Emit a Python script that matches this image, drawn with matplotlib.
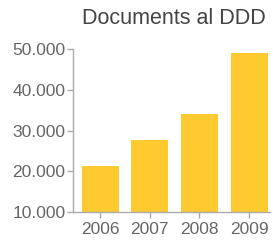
import numpy as np
import matplotlib.pyplot as plt

plt.rcParams['font.family'] = ['Liberation Sans', 'DejaVu Sans']

years = ['2006', '2007', '2008', '2009']
docs = [21300, 27700, 34000, 49000]
yticks = [10000, 20000, 30000, 40000, 50000]
ylabels = ['10.000', '20.000', '30.000', '40.000', '50.000']

grey = '#666666'
axis_col = '#aaaaaa'

fig = plt.figure(figsize=(2.73, 2.41), dpi=100)
ax = fig.add_axes([0.267, 0.12, 0.722, 0.677])

x = np.arange(len(years))
ax.bar(x, docs, width=0.75, color='#ffc930', bottom=0)

ax.set_xlim(-0.55, 3.42)
ax.set_ylim(10000, 50000)
ax.set_xticks(x)
ax.set_xticklabels(years)
ax.set_yticks(yticks)
ax.set_yticklabels(ylabels)

for s in ['top', 'right']:
    ax.spines[s].set_visible(False)
for s in ['left', 'bottom']:
    ax.spines[s].set_color(axis_col)
    ax.spines[s].set_linewidth(1)
ax.tick_params(colors=axis_col, labelcolor=grey, labelsize=12.5, length=4, width=1, pad=1.5)
ax.tick_params(axis='x', pad=3)

fig.text(0.637, 0.922, 'Documents al DDD', ha='center', va='center', fontsize=15.5, color='#444444')

fig.savefig('out.png', dpi=100)
